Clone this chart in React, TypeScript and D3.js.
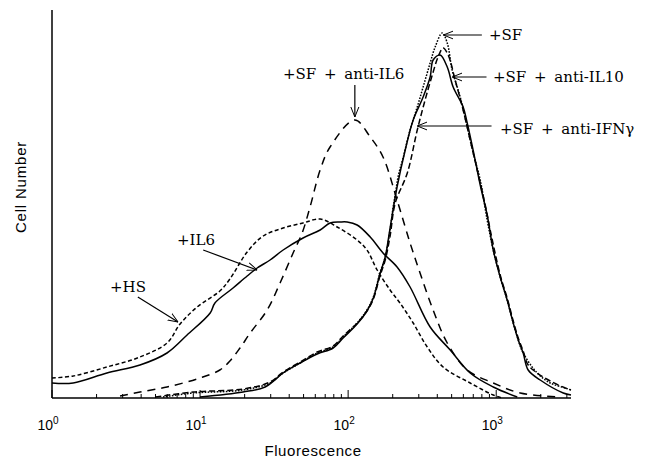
import React, { useEffect, useRef } from 'react'
import * as d3 from 'd3'

// [fluorescence, cell number]
const hs: [number, number][] = [
  [1, 20], [1.39, 22], [2.35, 31], [3.93, 41], [5.98, 55], [7.33, 74], [9.55, 91],
  [13.6, 107], [15.9, 119], [20.8, 146], [26.7, 162], [36.4, 170], [49.6, 175],
  [64.7, 179], [84.3, 171], [115, 158], [134, 148], [157, 128], [192, 108],
  [224, 95], [275, 75], [342, 51], [438, 31], [667, 15], [955, 3], [1100, 0]
]
const il6: [number, number][] = [
  [1, 15], [1.39, 15], [2.35, 25], [3.93, 33], [5.98, 45], [8.17, 63], [11.7, 85],
  [12.6, 95], [16.7, 110], [20.8, 122], [24.3, 130], [29.7, 138], [36.4, 148],
  [49.6, 160], [64.7, 168], [75.5, 175], [88.3, 176], [98.5, 176], [115, 173],
  [141, 161], [172, 145], [214, 131], [262, 111], [358, 71], [489, 48], [667, 25],
  [955, 11], [1387, 1]
]
const antiIL6: [number, number][] = [
  [2.88, 2], [3.93, 6], [5.98, 11], [10, 20], [13.6, 28], [15.9, 37], [18.6, 50],
  [21.8, 65], [28.4, 88], [34.7, 115], [42.5, 145], [48.9, 165], [55.3, 191],
  [64.7, 228], [75.5, 251], [111, 278], [141, 261], [172, 241], [214, 198],
  [262, 155], [306, 125], [375, 88], [467, 55], [637, 28], [955, 15], [1452, 5],
  [2705, 1]
]
const sf: [number, number][] = [
  [5.62, 1], [8.97, 5], [19.5, 8], [29.7, 15], [36.4, 25], [47.4, 35], [61.8, 45],
  [79.2, 51], [92.5, 61], [115, 75], [134, 88], [148, 101], [164, 125], [178, 141],
  [192, 168], [201, 190], [208, 203], [218, 222], [235, 240], [262, 268], [293, 291],
  [321, 311], [358, 335], [387, 351], [432, 365], [467, 355], [504, 328], [571, 301],
  [637, 271], [699, 245], [780, 218], [869, 178], [955, 148], [1064, 121], [1186, 98],
  [1303, 75], [1409, 58], [1521, 45], [1892, 25], [2316, 15], [2927, 10], [3200, 8]
]
const antiIL10: [number, number][] = [
  [10, 1], [19.5, 6], [27.5, 11], [36.4, 25], [47.4, 35], [61.8, 44], [79.2, 50],
  [92.5, 60], [115, 74], [134, 87], [148, 100], [164, 124], [178, 141], [192, 170],
  [214, 211], [243, 248], [275, 278], [321, 301], [358, 321], [375, 338], [418, 343],
  [467, 331], [512, 311], [598, 291], [637, 275], [721, 238], [780, 213], [869, 183],
  [955, 148], [1064, 121], [1186, 98], [1303, 75], [1409, 58], [1521, 45], [1644, 28],
  [1982, 18], [2837, 5], [3200, 3]
]
const antiIFNg: [number, number][] = [
  [5, 1], [8.97, 6], [19.5, 9], [29.7, 16], [36.4, 26], [47.4, 36], [61.8, 46],
  [79.2, 52], [92.5, 62], [115, 75], [134, 87], [148, 99], [164, 122], [178, 138],
  [192, 162], [208, 195], [251, 225], [293, 268], [331, 298], [370, 323], [405, 341],
  [438, 350], [474, 343], [528, 318], [598, 288], [667, 258], [744, 228], [843, 193],
  [911, 168], [1064, 123], [1186, 100], [1303, 77], [1409, 60], [1521, 47], [1644, 33],
  [1892, 25], [2316, 17], [2927, 10], [3200, 8]
]

const series = [
  { data: hs, dash: '4,2.5' },
  { data: il6, dash: null },
  { data: antiIL6, dash: '8,6' },
  { data: sf, dash: '1.6,1.4' },
  { data: antiIL10, dash: null },
  { data: antiIFNg, dash: '6,3' }
]

const decades = [1, 10, 100, 1000]

// label, text x, baseline y, arrow from [x,y] to [x,y] in data units
const notes: { label: string; tx: number; ty: number; from: [number, number]; to: [number, number] }[] = [
  { label: '+SF', tx: 489, ty: 40, from: [800, 363], to: [440, 363] },
  { label: '+SF + anti-IL10', tx: 493, ty: 82, from: [860, 321], to: [505, 321] },
  { label: '+SF + anti-IFN\u03b3', tx: 500, ty: 134, from: [930, 272], to: [293, 272] },
  { label: '+SF + anti-IL6', tx: 283, ty: 79, from: [111, 313], to: [111, 281] },
  { label: '+IL6', tx: 177, ty: 245, from: [10.5, 148], to: [24.3, 128] },
  { label: '+HS', tx: 110, ty: 292, from: [3.8, 101], to: [7.1, 76] }
]

const App = () => {
  const ref = useRef<SVGSVGElement>(null)

  useEffect(() => {
    const svg = d3.select(ref.current)
    svg.selectAll('*').remove()

    const x = d3.scaleLog().domain([1, 3200]).range([52, 571])
    const y = d3.scaleLinear().domain([0, 388]).range([398, 10])

    svg
      .append('defs')
      .append('marker')
      .attr('id', 'head')
      .attr('viewBox', '0 0 10 10')
      .attr('refX', 10)
      .attr('refY', 5)
      .attr('markerWidth', 10)
      .attr('markerHeight', 10)
      .attr('markerUnits', 'userSpaceOnUse')
      .attr('orient', 'auto')
      .append('path')
      .attr('d', 'M0,1 L10,5 L0,9')
      .attr('fill', 'none')
      .attr('stroke', '#000')
      .attr('stroke-width', 1)

    // axes: left line and bottom line with inward log ticks
    svg.append('line').attr('x1', 52).attr('x2', 52).attr('y1', 10).attr('y2', 398)
      .attr('stroke', '#000').attr('stroke-width', 1.5)
    svg.append('line').attr('x1', 52).attr('x2', 571).attr('y1', 398).attr('y2', 398)
      .attr('stroke', '#000').attr('stroke-width', 1.5)

    const ticks = x.ticks().filter(t => t <= 3200)
    svg
      .selectAll('.tick')
      .data(ticks)
      .enter()
      .append('line')
      .attr('x1', d => x(d))
      .attr('x2', d => x(d))
      .attr('y1', 398)
      .attr('y2', d => (decades.includes(d) ? 390 : 394))
      .attr('stroke', '#000')
      .attr('stroke-width', 1)

    const lbl = svg
      .selectAll('.xl')
      .data(decades)
      .enter()
      .append('text')
      .attr('x', d => x(d) - 4)
      .attr('y', 430)
      .attr('text-anchor', 'middle')
      .style('font-family', 'Liberation Sans, Arial, sans-serif')
      .style('font-size', '14px')
    lbl.append('tspan').text('10')
    lbl
      .append('tspan')
      .attr('dy', -6)
      .style('font-size', '10px')
      .text(d => String(Math.round(Math.log10(d))))

    svg
      .append('text')
      .attr('x', 313)
      .attr('y', 456)
      .attr('text-anchor', 'middle')
      .style('font-family', 'Liberation Sans, Arial, sans-serif')
      .style('font-size', '15px')
      .style('letter-spacing', '0.6px')
      .text('Fluorescence')

    svg
      .append('text')
      .attr('transform', 'translate(26,187) rotate(-90)')
      .attr('text-anchor', 'middle')
      .style('font-family', 'Liberation Sans, Arial, sans-serif')
      .style('font-size', '15px')
      .style('letter-spacing', '0.8px')
      .text('Cell Number')

    const line = d3
      .line<[number, number]>()
      .x(d => x(d[0]))
      .y(d => y(d[1]))
      .curve(d3.curveCatmullRom.alpha(0.5))

    svg
      .selectAll('.curve')
      .data(series)
      .enter()
      .append('path')
      .attr('d', d => line(d.data))
      .attr('fill', 'none')
      .attr('stroke', '#000')
      .attr('stroke-width', 1.5)
      .attr('stroke-dasharray', d => d.dash)

    svg
      .selectAll('.arrow')
      .data(notes)
      .enter()
      .append('line')
      .attr('x1', d => x(d.from[0]))
      .attr('y1', d => y(d.from[1]))
      .attr('x2', d => x(d.to[0]))
      .attr('y2', d => y(d.to[1]))
      .attr('stroke', '#000')
      .attr('stroke-width', 1.2)
      .attr('marker-end', 'url(#head)')

    svg
      .selectAll('.note')
      .data(notes)
      .enter()
      .append('text')
      .attr('x', d => d.tx)
      .attr('y', d => d.ty)
      .style('font-family', 'DejaVu Serif, serif')
      .style('font-size', '15px')
      .style('word-spacing', '3px')
      .text(d => d.label)
  }, [])

  return <svg ref={ref} width={645} height={461} style={{ position: 'absolute', left: 0, top: 0 }} />
}

export default App
